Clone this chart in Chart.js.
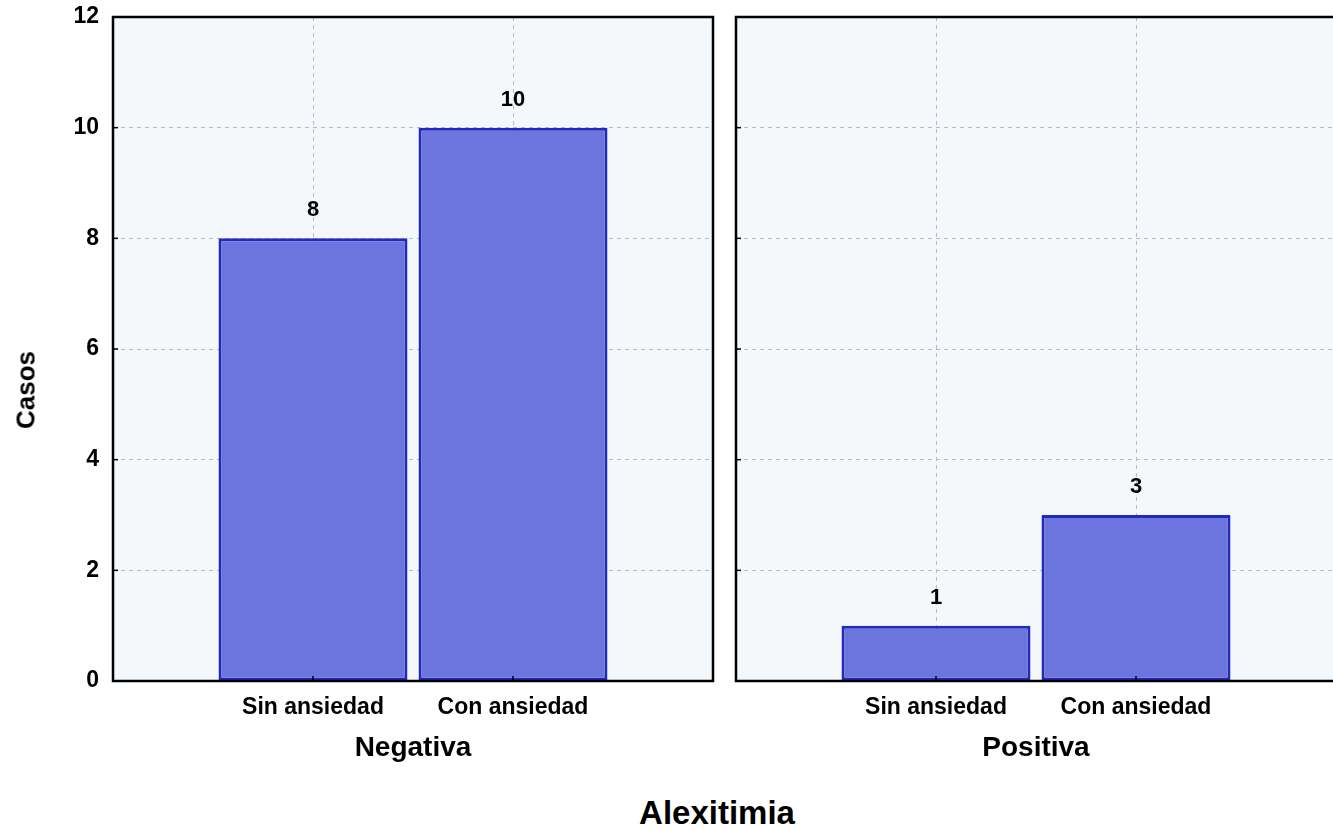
<!DOCTYPE html>
<html>
<head>
<meta charset="utf-8">
<script src="https://cdn.jsdelivr.net/npm/chart.js@4/dist/chart.umd.min.js"></script>
<style>
  body { margin: 0; background: #fff; overflow: hidden; width: 1333px; height: 830px; position: relative; font-family: "Liberation Sans", Arial, sans-serif; }
  .box { position: absolute; top: 0; height: 780px; }
  #casos { position: absolute; left: 26px; top: 390px; transform: translate(-50%, -50%) rotate(-90deg); font-weight: bold; font-size: 26px; white-space: nowrap; }
  #alex { position: absolute; left: 717px; top: 813px; transform: translate(-50%, -50%); font-weight: bold; font-size: 33px; white-space: nowrap; }
</style>
</head>
<body>
<div class="box" style="left:0;width:720px"><canvas id="negativa"></canvas></div>
<div class="box" style="left:730px;width:620px"><canvas id="positiva"></canvas></div>
<div id="casos">Casos</div>
<div id="alex">Alexitimia</div>
<script>
// datos
const categorias = ['Sin ansiedad', 'Con ansiedad'];
const valoresNegativa = [8, 10];
const valoresPositiva = [1, 3];
const paneles = ['Negativa', 'Positiva'];
const yMax = 12;
const yPaso = 2;

Chart.defaults.font.family = '"Liberation Sans", Arial, sans-serif';
Chart.defaults.font.weight = 'bold';
Chart.defaults.color = '#000';

// fondo, marco, marcas y etiquetas de valor
const marco = {
	id: 'marco',
	beforeDraw(chart) {
		const {ctx, chartArea: a} = chart;
		ctx.save();
		ctx.fillStyle = '#f4f8fb';
		ctx.fillRect(a.left, a.top, a.right - a.left, a.bottom - a.top);
		ctx.restore();
	},
	afterDatasetsDraw(chart) {
		const {ctx, chartArea: a} = chart;
		const x = chart.scales.x, y = chart.scales.y;
		ctx.save();
		ctx.strokeStyle = '#000';
		ctx.lineWidth = 1.5;
		y.ticks.forEach((t, i) => {
			const py = y.getPixelForTick(i);
			ctx.beginPath(); ctx.moveTo(a.left, py); ctx.lineTo(a.left + 5, py); ctx.stroke();
		});
		x.ticks.forEach((t, i) => {
			if (!x.getLabelForValue(t.value)) return;
			const px = x.getPixelForTick(i);
			ctx.beginPath(); ctx.moveTo(px, a.bottom); ctx.lineTo(px, a.bottom - 5); ctx.stroke();
		});
		ctx.lineWidth = 2.5;
		ctx.strokeRect(a.left, a.top, a.right - a.left, a.bottom - a.top);

		ctx.fillStyle = '#000';
		ctx.font = 'bold 22px "Liberation Sans", Arial, sans-serif';
		ctx.textAlign = 'center';
		ctx.textBaseline = 'middle';
		const meta = chart.getDatasetMeta(0);
		meta.data.forEach((bar, i) => {
			const v = chart.data.datasets[0].data[i];
			if (v == null) return;
			ctx.fillText(String(v), bar.x, bar.y - 28);
		});
		ctx.restore();
	}
};

function sinPadding(s) {
	s.paddingLeft = 0; s.paddingRight = 0; s.paddingTop = 0; s.paddingBottom = 0;
}

function crearPanel(id, valores, titulo, conEje) {
	const canvas = document.getElementById(id);
	const ancho = canvas.parentNode.clientWidth;
	canvas.width = ancho; canvas.height = 780;
	return new Chart(canvas, {
		type: 'bar',
		data: {
			labels: [''].concat(categorias, ['']),
			datasets: [{
				data: [null].concat(valores, [null]),
				backgroundColor: 'rgb(108, 117, 221)',
				borderColor: 'rgb(32, 42, 188)',
				borderWidth: 3,
				borderSkipped: false,
				barPercentage: 1,
				categoryPercentage: 0.945
			}]
		},
		options: {
			responsive: false,
			animation: false,
			layout: { padding: { top: 17, right: conEje ? 7 : 14, left: 0, bottom: 0 } },
			plugins: { legend: { display: false }, tooltip: { enabled: false } },
			scales: {
				x: {
					offset: false,
					grid: { color: '#b3bbca', lineWidth: 1, drawTicks: false, offset: false },
					border: { display: false, dash: [4, 4] },
					ticks: { font: { size: 23, weight: 'bold' }, padding: 13, maxRotation: 0, autoSkip: false },
					title: { display: true, text: titulo, font: { size: 28, weight: 'bold' }, padding: { top: 4, bottom: 15 } },
					afterFit(s) { s.height = 99; sinPadding(s); }
				},
				y: {
					min: 0, max: yMax,
					grid: { color: '#b3bbca', lineWidth: 1, drawTicks: false },
					border: { display: false, dash: [4, 4] },
					ticks: { stepSize: yPaso, display: conEje, font: { size: 23, weight: 'bold' }, padding: 14 },
					afterFit(s) { s.width = conEje ? 113 : 6; sinPadding(s); }
				}
			}
		},
		plugins: [marco]
	});
}

crearPanel('negativa', valoresNegativa, paneles[0], true);
crearPanel('positiva', valoresPositiva, paneles[1], false);
</script>
</body>
</html>
